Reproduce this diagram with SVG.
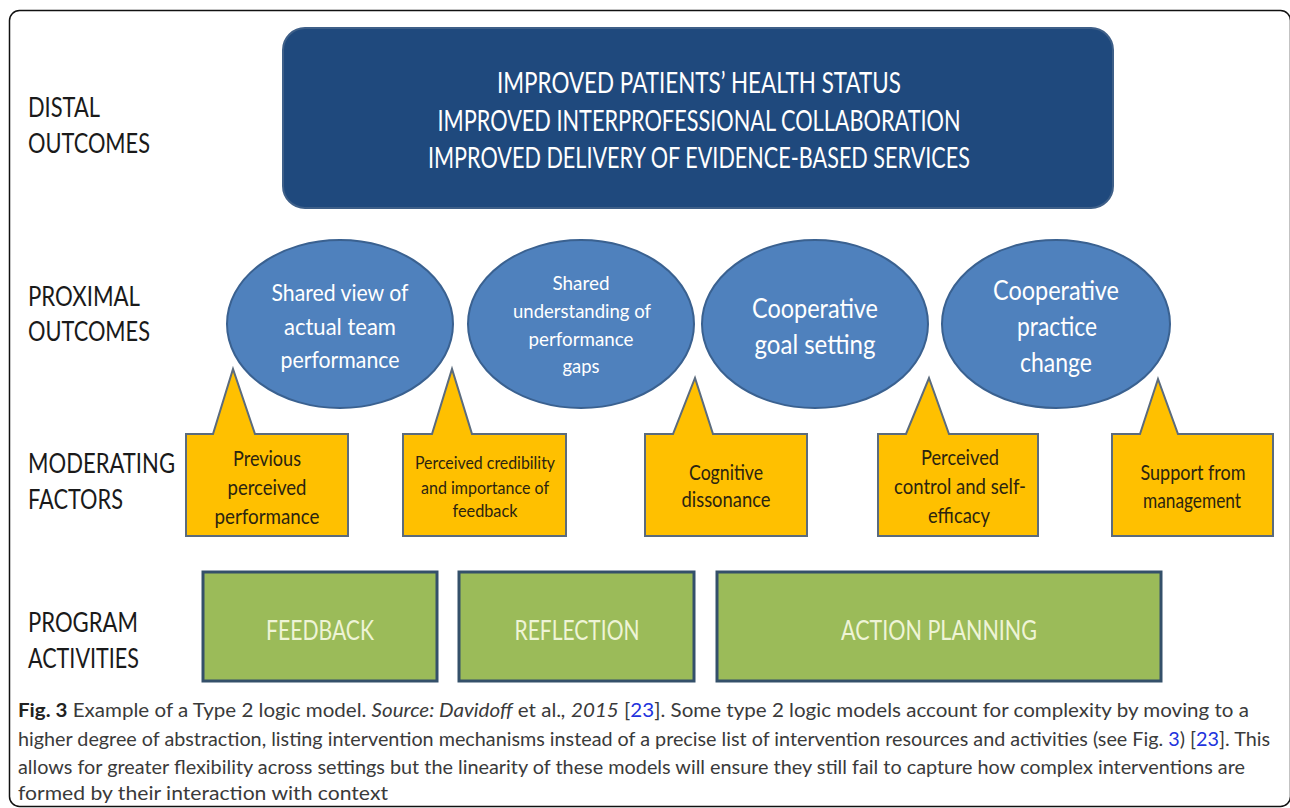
<svg xmlns="http://www.w3.org/2000/svg" width="1290" height="808" viewBox="0 0 1290 808">
<style>
.lbl{font-family:Lato,"Liberation Sans",sans-serif;font-size:27px;fill:#1a1a1a}
.dist{font-family:Lato,"Liberation Sans",sans-serif;font-size:28px;fill:#ffffff;text-anchor:middle}
.ell{fill:#4F81BD;stroke:#3A6190;stroke-width:2}
.etx{font-family:Lato,"Liberation Sans",sans-serif;fill:#ffffff;text-anchor:middle}
.call{fill:#FFC000;stroke:#5B6B7D;stroke-width:2;stroke-linejoin:miter}
.ctx{font-family:Lato,"Liberation Sans",sans-serif;fill:#2b2410;text-anchor:middle}
.grn{fill:#9BBB59;stroke:#34506A;stroke-width:3}
.gtx{font-family:Lato,"Liberation Sans",sans-serif;font-size:26px;fill:#EEF4D6;text-anchor:middle}
.cap{font-family:Lato,"Liberation Sans",sans-serif;font-size:19.5px;fill:#3a3a3a}
.lnk{fill:#2233dd}
</style>
<rect x="9.5" y="10.5" width="1281" height="796" rx="10" fill="#ffffff" stroke="#111111" stroke-width="1.5"/>

<g id="row-labels">
<text class="lbl" x="28" y="117" textLength="72" lengthAdjust="spacingAndGlyphs">DISTAL</text>
<text class="lbl" x="28" y="153" textLength="122" lengthAdjust="spacingAndGlyphs">OUTCOMES</text>
<text class="lbl" x="28" y="306" textLength="112" lengthAdjust="spacingAndGlyphs">PROXIMAL</text>
<text class="lbl" x="28" y="341" textLength="122" lengthAdjust="spacingAndGlyphs">OUTCOMES</text>
<text class="lbl" x="28" y="473" textLength="147" lengthAdjust="spacingAndGlyphs">MODERATING</text>
<text class="lbl" x="28" y="509" textLength="95" lengthAdjust="spacingAndGlyphs">FACTORS</text>
<text class="lbl" x="28" y="632" textLength="110" lengthAdjust="spacingAndGlyphs">PROGRAM</text>
<text class="lbl" x="28" y="668" textLength="111" lengthAdjust="spacingAndGlyphs">ACTIVITIES</text>
</g>

<g id="distal">
<rect x="283" y="28" width="830" height="180" rx="22" fill="#1F497D" stroke="#3E5F88" stroke-width="2"/>
<text class="dist" x="699" y="93" textLength="404" lengthAdjust="spacingAndGlyphs">IMPROVED  PATIENTS’ HEALTH STATUS</text>
<text class="dist" x="699" y="131" textLength="523" lengthAdjust="spacingAndGlyphs">IMPROVED INTERPROFESSIONAL COLLABORATION</text>
<text class="dist" x="699" y="168" textLength="542" lengthAdjust="spacingAndGlyphs">IMPROVED DELIVERY OF EVIDENCE-BASED SERVICES</text>
</g>

<g id="connectors"></g>

<g id="prox1">
<ellipse class="ell" cx="340" cy="324" rx="113" ry="84"/>
<text class="etx" font-size="24" x="340" y="301" textLength="137" lengthAdjust="spacingAndGlyphs">Shared view of</text>
<text class="etx" font-size="24" x="340" y="335" textLength="112" lengthAdjust="spacingAndGlyphs">actual team</text>
<text class="etx" font-size="24" x="340" y="368" textLength="119" lengthAdjust="spacingAndGlyphs">performance</text>
</g>
<g id="prox2">
<ellipse class="ell" cx="581" cy="324" rx="113" ry="84"/>
<text class="etx" font-size="20" x="581" y="290" textLength="57" lengthAdjust="spacingAndGlyphs">Shared</text>
<text class="etx" font-size="20" x="582" y="318" textLength="138" lengthAdjust="spacingAndGlyphs">understanding of</text>
<text class="etx" font-size="20" x="581" y="346" textLength="105" lengthAdjust="spacingAndGlyphs">performance</text>
<text class="etx" font-size="20" x="581" y="373" textLength="37" lengthAdjust="spacingAndGlyphs">gaps</text>
</g>
<g id="prox3">
<ellipse class="ell" cx="815" cy="324" rx="113" ry="84"/>
<text class="etx" font-size="27" x="815" y="318" textLength="126" lengthAdjust="spacingAndGlyphs">Cooperative</text>
<text class="etx" font-size="27" x="815" y="354" textLength="121" lengthAdjust="spacingAndGlyphs">goal setting</text>
</g>
<g id="prox4">
<ellipse class="ell" cx="1056" cy="324" rx="114" ry="84"/>
<text class="etx" font-size="27" x="1056" y="300" textLength="126" lengthAdjust="spacingAndGlyphs">Cooperative</text>
<text class="etx" font-size="27" x="1057" y="336" textLength="80" lengthAdjust="spacingAndGlyphs">practice</text>
<text class="etx" font-size="27" x="1056" y="372" textLength="72" lengthAdjust="spacingAndGlyphs">change</text>
</g>

<g id="mod1">
<path class="call" d="M186 434 H213 L233 369 L255 434 H348 V536 H186 Z"/>
<text class="ctx" font-size="21" x="267" y="466" textLength="68" lengthAdjust="spacingAndGlyphs">Previous</text>
<text class="ctx" font-size="21" x="267" y="495" textLength="79" lengthAdjust="spacingAndGlyphs">perceived</text>
<text class="ctx" font-size="21" x="267" y="524" textLength="105" lengthAdjust="spacingAndGlyphs">performance</text>
</g>
<g id="mod2">
<path class="call" d="M403 434 H432 L452 369 L472 434 H566 V536 H403 Z"/>
<text class="ctx" font-size="17" x="485" y="469" textLength="140" lengthAdjust="spacingAndGlyphs">Perceived credibility</text>
<text class="ctx" font-size="17" x="485" y="494" textLength="128" lengthAdjust="spacingAndGlyphs">and importance of</text>
<text class="ctx" font-size="17" x="485" y="517" textLength="65" lengthAdjust="spacingAndGlyphs">feedback</text>
</g>
<g id="mod3">
<path class="call" d="M645 434 H673 L695 378 L713 434 H807 V536 H645 Z"/>
<text class="ctx" font-size="21" x="726" y="480" textLength="74" lengthAdjust="spacingAndGlyphs">Cognitive</text>
<text class="ctx" font-size="21" x="726" y="507" textLength="89" lengthAdjust="spacingAndGlyphs">dissonance</text>
</g>
<g id="mod4">
<path class="call" d="M878 434 H906 L929 378 L949 434 H1038 V536 H878 Z"/>
<text class="ctx" font-size="21" x="960" y="465" textLength="78" lengthAdjust="spacingAndGlyphs">Perceived</text>
<text class="ctx" font-size="21" x="960" y="494" textLength="132" lengthAdjust="spacingAndGlyphs">control and self-</text>
<text class="ctx" font-size="21" x="959" y="523" textLength="62" lengthAdjust="spacingAndGlyphs">efficacy</text>
</g>
<g id="mod5">
<path class="call" d="M1112 434 H1140 L1158 379 L1178 434 H1273 V536 H1112 Z"/>
<text class="ctx" font-size="21" x="1193" y="480" textLength="105" lengthAdjust="spacingAndGlyphs">Support from</text>
<text class="ctx" font-size="21" x="1192" y="508" textLength="98" lengthAdjust="spacingAndGlyphs">management</text>
</g>

<g id="act1">
<rect class="grn" x="203" y="572" width="234" height="109"/>
<text class="gtx" x="320" y="640" textLength="108" lengthAdjust="spacingAndGlyphs">FEEDBACK</text>
</g>
<g id="act2">
<rect class="grn" x="459" y="572" width="235" height="109"/>
<text class="gtx" x="577" y="640" textLength="125" lengthAdjust="spacingAndGlyphs">REFLECTION</text>
</g>
<g id="act3">
<rect class="grn" x="717" y="572" width="444" height="109"/>
<text class="gtx" x="939" y="640" textLength="196" lengthAdjust="spacingAndGlyphs">ACTION PLANNING</text>
</g>

<g id="caption">
<text class="cap" x="18" y="717" textLength="1231" lengthAdjust="spacingAndGlyphs"><tspan font-weight="bold" fill="#222">Fig. 3</tspan> Example of a Type 2 logic model. <tspan font-style="italic">Source: Davidoff</tspan> et al.<tspan font-style="italic">,</tspan> <tspan font-style="italic">2015</tspan> [<tspan class="lnk">23</tspan>]. Some type 2 logic models account for complexity by moving to a</text>
<text class="cap" x="18" y="746" textLength="1252" lengthAdjust="spacingAndGlyphs">higher degree of abstraction, listing intervention mechanisms instead of a precise list of intervention resources and activities (see Fig. <tspan class="lnk">3</tspan>) [<tspan class="lnk">23</tspan>]. This</text>
<text class="cap" x="18" y="774" textLength="1227" lengthAdjust="spacingAndGlyphs">allows for greater flexibility across settings but the linearity of these models will ensure they still fail to capture how complex interventions are</text>
<text class="cap" x="18" y="800" textLength="370" lengthAdjust="spacingAndGlyphs">formed by their interaction with context</text>
</g>
</svg>
